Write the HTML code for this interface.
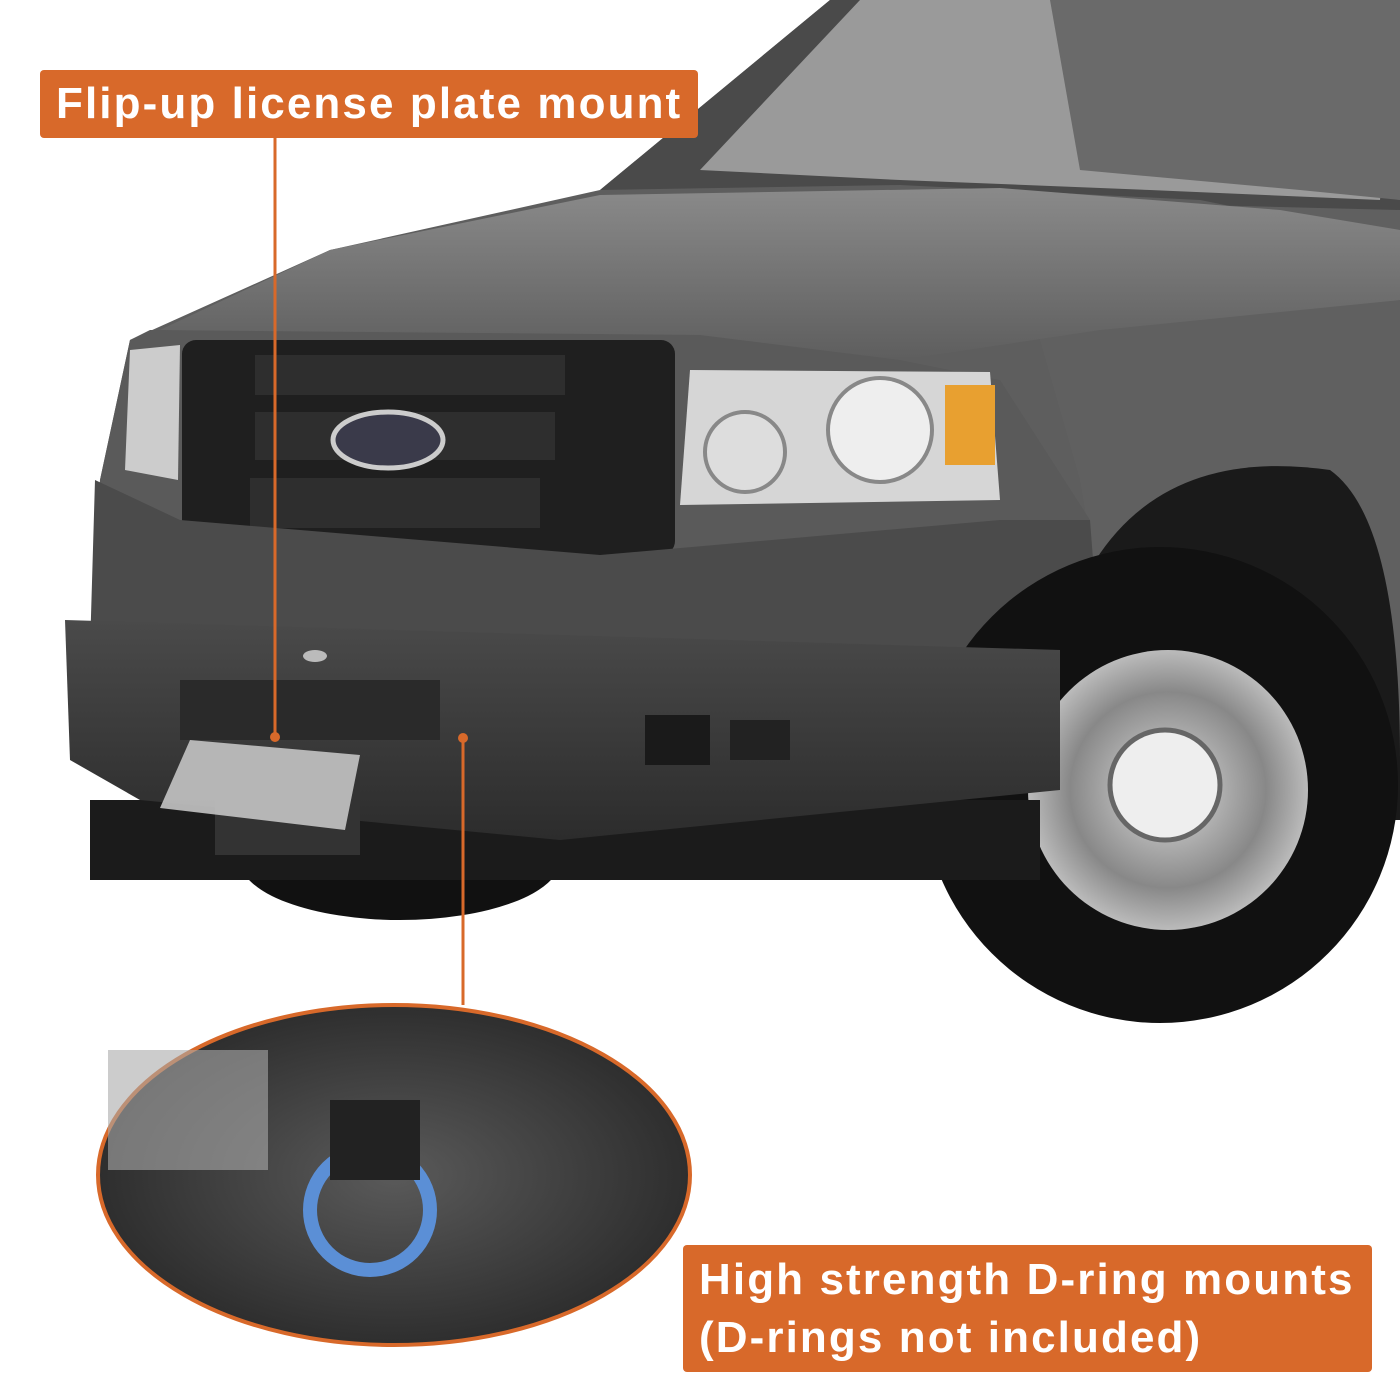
<!DOCTYPE html>
<html><head><meta charset="utf-8"><style>
html,body{margin:0;padding:0;background:#fff}
.c{position:relative;width:1400px;height:1400px;overflow:hidden;background:#fff}
.lab{position:absolute;background:#d8692a;color:#fff;font-family:"Liberation Sans",sans-serif;font-weight:bold;border-radius:4px;letter-spacing:2.1px}
</style></head><body><div class="c">
<svg width="1400" height="1400" style="position:absolute;left:0;top:0">
<defs>
<linearGradient id="hood" x1="0" y1="0" x2="0" y2="1"><stop offset="0" stop-color="#8a8a8a"/><stop offset="1" stop-color="#5e5e5e"/></linearGradient>
<linearGradient id="bump" x1="0" y1="0" x2="0" y2="1"><stop offset="0" stop-color="#4a4a4a"/><stop offset="1" stop-color="#2c2c2c"/></linearGradient>
<radialGradient id="wheel"><stop offset="0" stop-color="#ddd"/><stop offset="0.7" stop-color="#888"/><stop offset="1" stop-color="#bbb"/></radialGradient>
<radialGradient id="circ"><stop offset="0" stop-color="#5a5a5a"/><stop offset="1" stop-color="#2e2e2e"/></radialGradient>
</defs>
<!-- backing -->
<polygon points="600,190 830,0 1400,0 1400,700 1090,640 90,640 100,480 130,340 330,250" fill="#5e5e5e"/>
<!-- cab/windshield -->
<polygon points="600,190 830,0 1400,0 1400,240 1200,200 900,185" fill="#4a4a4a"/>
<polygon points="700,170 860,0 1400,0 1380,200 1150,190 900,180" fill="#9a9a9a"/>
<polygon points="1050,0 1400,0 1400,200 1300,190 1080,170" fill="#6a6a6a"/>
<!-- body side -->
<polygon points="1000,200 1400,210 1400,780 1100,600 1080,480" fill="#606060"/>
<!-- hood -->
<polygon points="160,330 330,250 600,195 1000,188 1280,210 1400,230 1400,300 1100,330 900,360 700,340" fill="url(#hood)"/>
<!-- front fascia -->
<polygon points="150,330 700,335 900,360 1000,380 1090,520 1090,640 90,640 100,480 130,340" fill="#5a5a5a"/>
<polygon points="130,350 180,345 178,480 125,470" fill="#ccc"/>
<!-- grille -->
<rect x="182" y="340" width="493" height="215" rx="14" fill="#1f1f1f"/>
<rect x="255" y="355" width="310" height="40" fill="#2e2e2e"/>
<rect x="255" y="412" width="300" height="48" fill="#2e2e2e"/>
<rect x="250" y="478" width="290" height="50" fill="#2e2e2e"/>
<ellipse cx="388" cy="440" rx="55" ry="28" fill="#3a3a4a" stroke="#ccc" stroke-width="5"/>
<!-- headlight right -->
<polygon points="690,370 990,372 1000,500 680,505" fill="#d6d6d6"/>
<circle cx="880" cy="430" r="52" fill="#eee" stroke="#888" stroke-width="4"/>
<circle cx="745" cy="452" r="40" fill="#ddd" stroke="#888" stroke-width="4"/>
<rect x="945" y="385" width="50" height="80" fill="#e8a030"/>
<!-- lower fascia -->
<polygon points="95,480 180,520 600,555 1000,520 1090,520 1100,650 90,650" fill="#4b4b4b"/>
<!-- wheel well & tire -->
<path d="M1060,640 Q1120,440 1330,470 Q1400,520 1400,760 L1400,820 L1060,820 Z" fill="#1a1a1a"/>
<circle cx="1160" cy="785" r="238" fill="#111"/>
<circle cx="1168" cy="790" r="140" fill="url(#wheel)"/>
<circle cx="1165" cy="785" r="55" fill="#eee" stroke="#666" stroke-width="5"/>
<!-- shadow -->
<ellipse cx="400" cy="860" rx="160" ry="60" fill="#111"/>
<rect x="90" y="800" width="950" height="80" fill="#1b1b1b"/>
<!-- steel bumper -->
<polygon points="65,620 1060,650 1060,790 560,840 140,800 70,760" fill="url(#bump)"/>
<rect x="180" y="680" width="260" height="60" fill="#2a2a2a"/>
<rect x="645" y="715" width="65" height="50" fill="#1a1a1a"/>
<rect x="730" y="720" width="60" height="40" fill="#222"/>
<ellipse cx="315" cy="656" rx="12" ry="6" fill="#bbb"/>
<rect x="215" y="780" width="145" height="75" fill="#333"/>
<polygon points="190,740 360,755 345,830 160,808" fill="#c4c4c4" opacity="0.9"/>
<!-- circle detail -->
<ellipse cx="394" cy="1175" rx="296" ry="170" fill="url(#circ)" stroke="#d8692a" stroke-width="4"/>
<rect x="108" y="1050" width="160" height="120" fill="#aaa" opacity="0.6"/>
<circle cx="370" cy="1210" r="60" fill="none" stroke="#5b8fd6" stroke-width="14"/>
<rect x="330" y="1100" width="90" height="80" fill="#222"/>
<!-- connectors -->
<line x1="275" y1="138" x2="275" y2="735" stroke="#d8692a" stroke-width="3"/>
<circle cx="275" cy="737" r="5" fill="#d8692a"/>
<line x1="463" y1="738" x2="463" y2="1005" stroke="#d8692a" stroke-width="3"/>
<circle cx="463" cy="738" r="5" fill="#d8692a"/>
</svg>
<div class="lab" style="left:40px;top:70px;width:658px;height:68px;font-size:44px;line-height:68px;padding-left:16px;box-sizing:border-box">Flip-up license plate mount</div>
<div class="lab" style="left:683px;top:1245px;width:689px;height:127px;font-size:44px;line-height:58px;padding:6px 0 0 16px;box-sizing:border-box">High strength D-ring mounts<br>(D-rings not included)</div>
</div></body></html>
